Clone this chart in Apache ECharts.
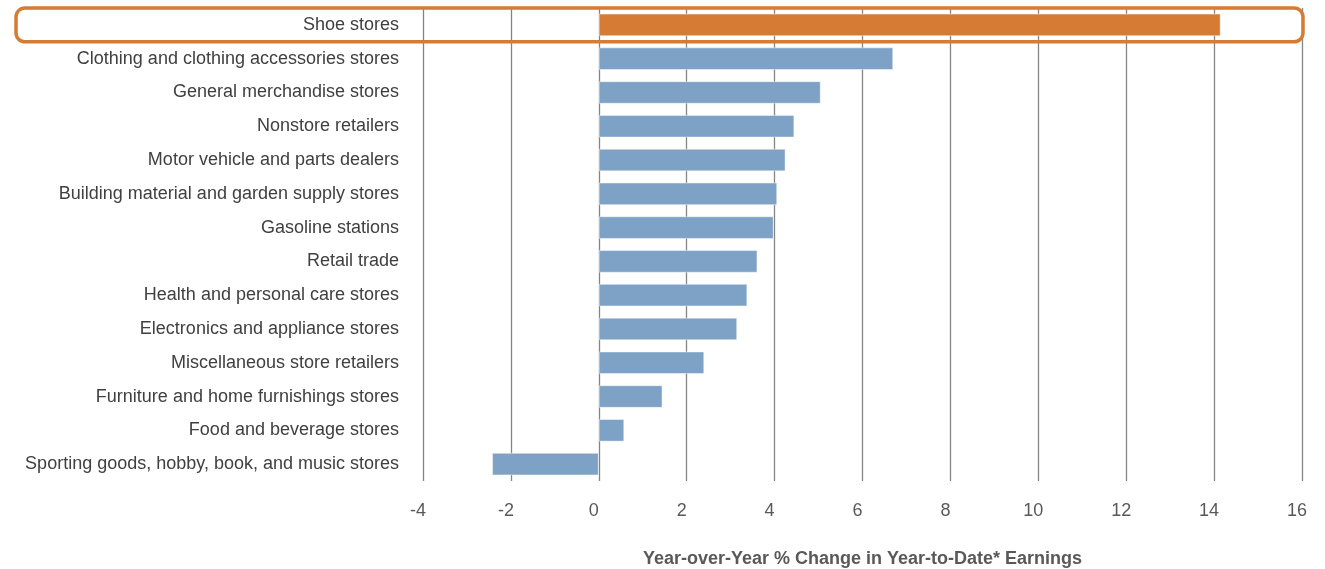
<!DOCTYPE html>
<html>
<head>
<meta charset="utf-8">
<script src="https://cdn.jsdelivr.net/npm/echarts@6/dist/echarts.min.js"></script>
<style>
html,body{margin:0;padding:0;background:#fff;}
#chart{width:1325px;height:569px;}
</style>
</head>
<body>
<div id="chart"></div>
<script>
const categories = [
  "Shoe stores",
  "Clothing and clothing accessories stores",
  "General merchandise stores",
  "Nonstore retailers",
  "Motor vehicle and parts dealers",
  "Building material and garden supply stores",
  "Gasoline stations",
  "Retail trade",
  "Health and personal care stores",
  "Electronics and appliance stores",
  "Miscellaneous store retailers",
  "Furniture and home furnishings stores",
  "Food and beverage stores",
  "Sporting goods, hobby, book, and music stores"
];
const values = [14.15, 6.70, 5.05, 4.45, 4.25, 4.06, 3.98, 3.61, 3.38, 3.15, 2.40, 1.45, 0.58, -2.43];
const highlighted = "Shoe stores";
const axisTitle = "Year-over-Year % Change in Year-to-Date* Earnings";

const FONT = "'Liberation Sans Narrow', 'Liberation Sans', Arial, sans-serif";
const BLUE = "#7ea2c5";
const ORANGE = "#d57b33";

const chart = echarts.init(document.getElementById('chart'), null, {renderer: 'canvas'});
const seriesData = categories.map((c, i) => ({
  value: values[i],
  itemStyle: { color: c === highlighted ? ORANGE : BLUE }
}));

chart.setOption({
  animation: false,
  backgroundColor: '#fff',
  grid: { left: 423, right: 23, top: 8, bottom: 88, containLabel: false, outerBoundsMode: 'none' },
  xAxis: {
    type: 'value', min: -4, max: 16, interval: 2,
    axisLine: { show: false }, axisTick: { show: false },
    splitLine: { show: true, lineStyle: { color: '#858585', width: 1.3 } },
    axisLabel: { color: '#595959', fontFamily: FONT, fontSize: 18, margin: 21, padding: [0, 10, 0, 0] },
    name: axisTitle, nameLocation: 'middle', nameGap: 69,
    nameTextStyle: { color: '#595959', fontFamily: FONT, fontSize: 18, fontWeight: 'bold' }
  },
  yAxis: {
    type: 'category', data: categories, inverse: true,
    axisLine: { show: false }, axisTick: { show: false },
    splitLine: { show: false },
    axisLabel: { color: '#404040', fontFamily: FONT, fontSize: 18, margin: 24 }
  },
  series: [{
    type: 'bar', data: seriesData, barWidth: '67%',
    itemStyle: { borderColor: 'rgba(255,255,255,0.45)', borderWidth: 1 },
    z: 3
  }]
});

// highlight box around the highlighted row
const idx = categories.indexOf(highlighted);
const yc = chart.convertToPixel({ yAxisIndex: 0 }, categories[idx]);
const yn = chart.convertToPixel({ yAxisIndex: 0 }, categories[idx + 1]);
const band = Math.abs(yn - yc);
const xr = chart.convertToPixel({ xAxisIndex: 0 }, 16);
chart.setOption({
  graphic: [{
    type: 'rect', z: 100,
    shape: { x: 16, y: yc - band / 2, width: xr - 16 + 1, height: band, r: 9 },
    style: { fill: 'none', stroke: ORANGE, lineWidth: 3.5 }
  }]
});
</script>
</body>
</html>
